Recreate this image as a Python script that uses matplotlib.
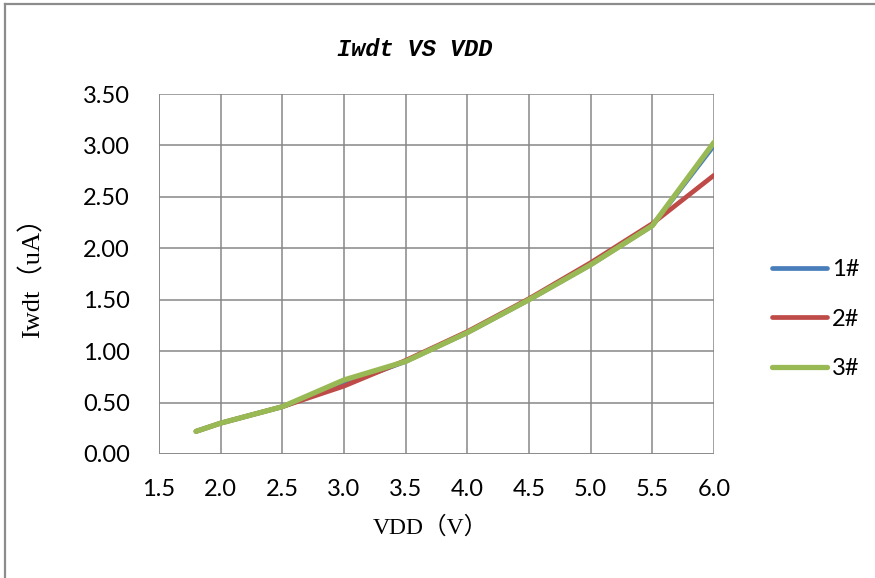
import matplotlib.pyplot as plt
from matplotlib.lines import Line2D

# data
vdd = [1.8, 2.0, 2.5, 3.0, 3.5, 4.0, 4.5, 5.0, 5.5, 6.0]
iwdt_1 = [0.22, 0.30, 0.46, 0.68, 0.90, 1.18, 1.50, 1.84, 2.22, 3.00]
iwdt_2 = [0.22, 0.30, 0.46, 0.66, 0.91, 1.19, 1.51, 1.86, 2.24, 2.71]
iwdt_3 = [0.22, 0.30, 0.46, 0.72, 0.90, 1.18, 1.50, 1.84, 2.22, 3.03]
labels = ["1#", "2#", "3#"]
colors = ["#4A7EBB", "#BE4B48", "#98B954"]

xticks = [1.5, 2.0, 2.5, 3.0, 3.5, 4.0, 4.5, 5.0, 5.5, 6.0]
yticks = [0.0, 0.5, 1.0, 1.5, 2.0, 2.5, 3.0, 3.5]

################################################################################

fig = plt.figure(figsize=(8.75, 5.78), dpi=100)
ax = fig.add_axes([159 / 875, 1 - 454 / 578, (714 - 159) / 875, (454 - 94) / 578])

for ys, lab, c, lw in zip([iwdt_1, iwdt_2, iwdt_3], labels, colors, [3.4, 3.4, 3.8]):
	ax.plot(vdd, ys, color=c, lw=lw, label=lab, solid_capstyle="round", solid_joinstyle="round", zorder=3)

ax.set_xlim(1.5, 6.0)
ax.set_ylim(0.0, 3.5)
ax.set_xticks(xticks)
ax.set_yticks(yticks)
ax.set_xticklabels(["%.1f" % v for v in xticks], fontfamily="Lato", fontsize=17)
ax.set_yticklabels(["%.2f" % v for v in yticks], fontfamily="Lato", fontsize=17)
ax.tick_params(axis="x", length=0, pad=18)
ax.tick_params(axis="y", length=0, pad=21)
ax.grid(True, color="#878787", lw=1.1)
ax.set_axisbelow(True)
for s in ax.spines.values():
	s.set_visible(False)
ax.axvline(1.5, color="#878787", lw=1.1, zorder=1)
ax.axhline(0.0, color="#878787", lw=1.1, zorder=1)

fig.text(415 / 875, 1 - 50 / 578, "Iwdt VS VDD", ha="center", va="center",
	fontfamily="Liberation Mono", fontstyle="italic", fontweight="bold", fontsize=17)
fig.text(32 / 875, 1 - 271 / 578, "Iwdt（uA）", ha="center", va="center", rotation=90,
	family=["Liberation Serif", "Noto Sans CJK SC"], fontsize=19)
fig.text(430 / 875, 1 - 528 / 578, "VDD（V）", ha="center", va="center",
	family=["Liberation Serif", "Noto Sans CJK SC"], fontsize=17)

leg = ax.legend(loc="center left", bbox_to_anchor=(1.104, 0.375), frameon=False,
	borderaxespad=0, borderpad=0,
	prop={"family": "Lato", "size": 17}, handlelength=2.35, handletextpad=0.2, labelspacing=1.2)

# chart area border (cropped on the right and bottom)
fig.add_artist(Line2D([5 / 875, 5 / 875], [0, 1 - 4 / 578], color="#8C8C8C", lw=1.6))
fig.add_artist(Line2D([5 / 875, 1], [1 - 4 / 578, 1 - 4 / 578], color="#8C8C8C", lw=1.6))

plt.savefig("out.png", dpi=100)
plt.close()
